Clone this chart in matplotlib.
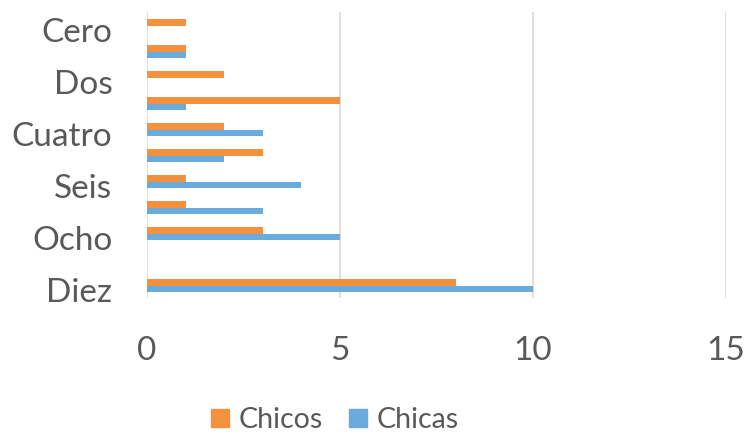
import matplotlib
matplotlib.use("Agg")
import matplotlib.pyplot as plt
import numpy as np
from matplotlib.patches import Patch

categories = ["Cero", "Uno", "Dos", "Tres", "Cuatro", "Cinco", "Seis", "Siete", "Ocho", "Nueve", "Diez"]
chicos = [1, 1, 2, 5, 2, 3, 1, 1, 3, 0, 8]
chicas = [0, 1, 0, 1, 3, 2, 4, 3, 5, 0, 10]
xticks = [0, 5, 10, 15]

c_orange = "#F4913E"
c_blue = "#6AABDE"
txt = "#595959"
plt.rcParams['font.family'] = ['Lato', 'DejaVu Sans']

fig = plt.figure(figsize=(7.45, 4.34), dpi=100)
ax = fig.add_axes([147/745, 1-298/434, (726-147)/745, (298-12)/434])

pos = np.arange(len(categories))
off = 0.17
h = 0.25
ax.barh(pos - off - h/2, chicos, height=h, color=c_orange, zorder=3)
ax.barh(pos - off + h/2, chicas, height=h, color=c_blue, zorder=3)

ax.set_ylim(10.31, -0.69)
ax.set_xlim(0, 15)
ax.set_yticks(pos[::2])
ax.set_yticklabels(categories[::2])
ax.set_xticks(xticks)
ax.set_xticklabels([str(v) for v in xticks])
ax.tick_params(axis='y', length=0, pad=25, labelsize=24, labelcolor=txt)
ax.tick_params(axis='x', length=0, pad=27, labelsize=24, labelcolor=txt)
for s in ax.spines.values():
    s.set_visible(False)
ax.grid(axis='x', color='#D9D9D9', linewidth=1.2, zorder=0)

handles = [Patch(color=c_orange, label="Chicos"), Patch(color=c_blue, label="Chicas")]
leg = fig.legend(handles=handles, loc='center', bbox_to_anchor=(335/745, 1-420/434), ncol=2,
                 frameon=False, fontsize=20.5, handlelength=0.62, handleheight=0.62,
                 handletextpad=0.36, columnspacing=0.9, borderpad=0, borderaxespad=0)
for t in leg.get_texts():
    t.set_color(txt)

fig.savefig("out.png", dpi=100)
